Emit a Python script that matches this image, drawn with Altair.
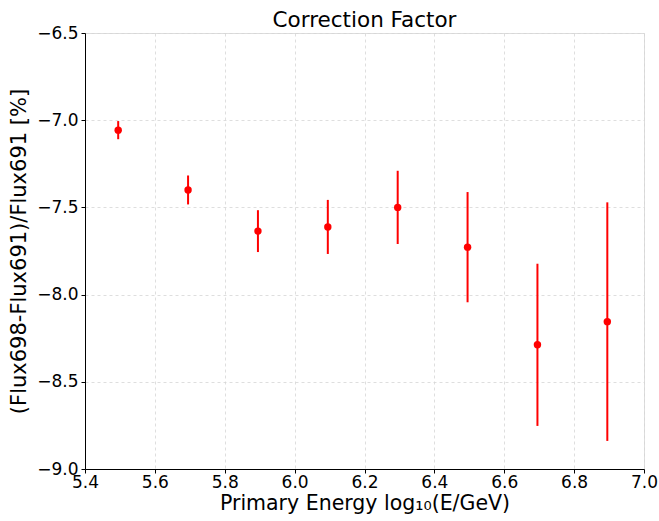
import altair as alt
import pandas as pd

energy = [5.495, 5.695, 5.895, 6.095, 6.295, 6.495, 6.695, 6.895]
ratio = [-7.057, -7.400, -7.636, -7.612, -7.500, -7.728, -8.288, -8.155]
err = [0.052, 0.083, 0.120, 0.155, 0.210, 0.316, 0.465, 0.684]

df = pd.DataFrame({"x": energy, "y": ratio, "err": err})
df["lo"] = df["y"] - df["err"]
df["hi"] = df["y"] + df["err"]

FONT = "DejaVu Sans"

xscale = alt.Scale(domain=[5.4, 7.0], nice=False, zero=False)
yscale = alt.Scale(domain=[-9.0, -6.5], nice=False, zero=False)

xaxis = alt.Axis(
    title="Primary Energy log₁₀(E/GeV)",
    values=[5.4, 5.6, 5.8, 6.0, 6.2, 6.4, 6.6, 6.8, 7.0],
    format=".1f",
    labelFont=FONT, labelFontSize=17, labelColor="black", labelPadding=1,
    titleFont=FONT, titleFontSize=20.5, titleFontWeight="normal", titleColor="black",
    titlePadding=3,
    domainColor="black", tickColor="black", tickSize=4,
    gridColor="#d6d6d6", gridDash=[3, 3], gridWidth=0.8,
    labelFlush=False,
)
yaxis = alt.Axis(
    title="(Flux698-Flux691)/Flux691 [%]",
    values=[-9.0, -8.5, -8.0, -7.5, -7.0, -6.5],
    format=".1f",
    labelFont=FONT, labelFontSize=17, labelColor="black", labelPadding=3,
    titleFont=FONT, titleFontSize=21, titleFontWeight="normal", titleColor="black",
    titlePadding=7,
    domainColor="black", tickColor="black", tickSize=4,
    gridColor="#d6d6d6", gridDash=[3, 3], gridWidth=0.8,
    labelFlush=False,
)

base = alt.Chart(df)

bars = base.mark_rule(color="red", strokeWidth=2).encode(
    x=alt.X("x:Q", scale=xscale, axis=xaxis),
    y=alt.Y("lo:Q", scale=yscale, axis=yaxis),
    y2="hi:Q",
)

points = base.mark_circle(color="red", size=55, opacity=1).encode(
    x=alt.X("x:Q", scale=xscale),
    y=alt.Y("y:Q", scale=yscale),
)

chart = (
    alt.layer(bars, points)
    .properties(
        width=559,
        height=436,
        title=alt.TitleParams(
            "Correction Factor", font=FONT, fontSize=21.5, fontWeight="normal",
            color="black", anchor="middle", offset=5, dy=12,
        ),
        autosize=alt.AutoSizeParams(type="none"),
        padding={"left": 85, "top": 33, "right": 15, "bottom": 52},
    )
    .configure_view(stroke="black", strokeWidth=1.2)
    .configure(background="white")
)

chart.save("out.html", embed_options={"renderer": "svg", "actions": False})
